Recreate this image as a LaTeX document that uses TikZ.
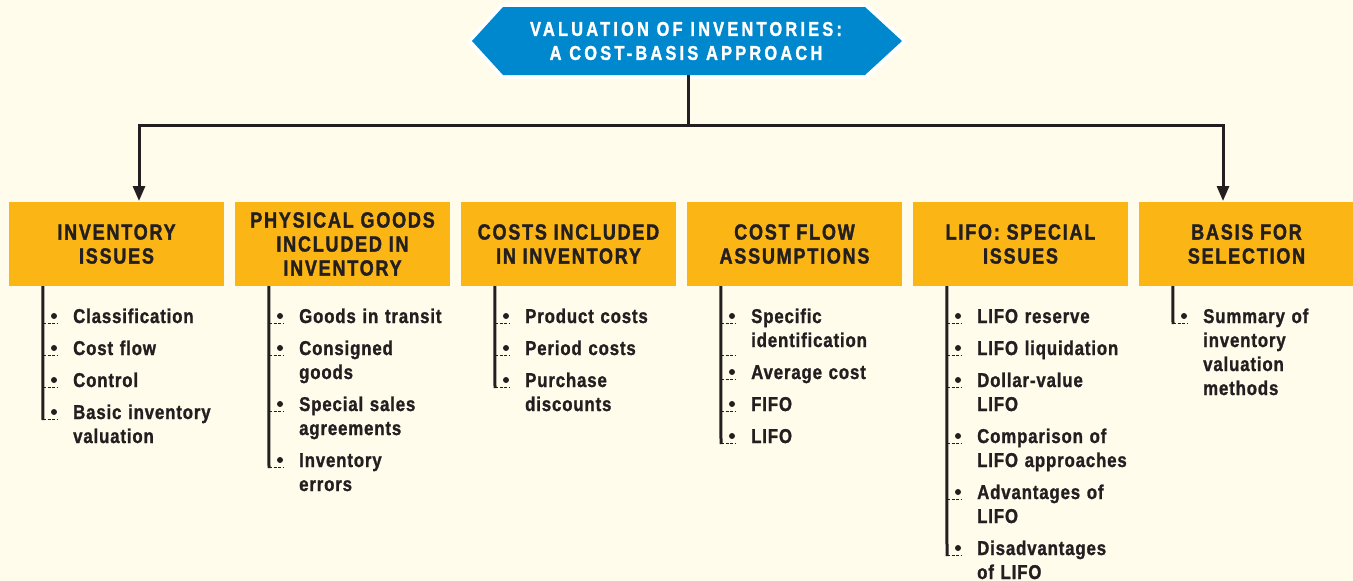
\documentclass[tikz,border=0pt]{standalone}
\usepackage{fontspec}
\setmainfont{Liberation Sans}
\newfontfamily\itemfont{Liberation Sans}[FakeStretch=0.84, LetterSpace=4.3, BoldFeatures={FakeBold=1.2}]
\newfontfamily\hdrfont{Liberation Sans}[FakeStretch=0.82, LetterSpace=8, BoldFeatures={FakeBold=1.6}]
\newfontfamily\titlefont{Liberation Sans}[FakeStretch=0.82, LetterSpace=16, BoldFeatures={FakeBold=1.4}]
\usetikzlibrary{arrows.meta}
\definecolor{bg}{RGB}{255,252,236}
\definecolor{hexblue}{RGB}{0,136,206}
\definecolor{boxorange}{RGB}{251,182,21}
\definecolor{ink}{RGB}{35,31,32}
\tikzset{
  hdr/.style={fill=boxorange, draw=none, minimum width=215pt, minimum height=84pt, inner sep=0pt,
    align=center, text=ink, font=\hdrfont\bfseries\fontsize{22}{24}\selectfont},
  item/.style={anchor=base west, inner sep=0pt, align=left, text width=170pt, text=ink,
    font=\itemfont\bfseries\fontsize{20}{24}\selectfont},
  bar/.style={draw=ink, line width=3pt},
  tickline/.style={draw=ink, line width=1pt, dash pattern=on 3pt off 1.5pt},
  conn/.style={draw=ink, line width=3pt},
  tip/.style={-{Triangle[length=15pt,width=12pt]}}
}
\newcommand\itm[4]{%
  \node[item] (#1) at (#2+64,#3) {#4};
  \fill[ink] (#2+45,#3-7) circle (3pt);
  \draw[tickline] (#2+34,#3) -- (#2+48,#3);
}
\begin{document}
\begin{tikzpicture}[x=1pt,y=-1pt]
\fill[bg] (0,0) rectangle (1353,581);
\useasboundingbox (0,0) rectangle (1353,581);
% title hexagon
\draw[white, line width=8pt, line join=round] (472,41) -- (503,7) -- (865,7) -- (902,41) -- (865,75) -- (503,75) -- cycle;
\fill[hexblue] (472,41) -- (503,7) -- (865,7) -- (902,41) -- (865,75) -- (503,75) -- cycle;
\node[align=center, text=white, inner sep=0pt, font=\titlefont\bfseries\fontsize{20}{24}\selectfont] (title) at (686,41) {VALUATION OF INVENTORIES:\\A COST-BASIS APPROACH};
% boxes
\node[hdr] (b1) at (116.5,244) {INVENTORY\\ISSUES};
\node[hdr] (b2) at (342.5,244) {PHYSICAL GOODS\\INCLUDED IN\\INVENTORY};
\node[hdr] (b3) at (568.5,244) {COSTS INCLUDED\\IN INVENTORY};
\node[hdr] (b4) at (794.5,244) {COST FLOW\\ASSUMPTIONS};
\node[hdr] (b5) at (1020.5,244) {LIFO: SPECIAL\\ISSUES};
\node[hdr] (b6) at (1246.5,244) {BASIS FOR\\SELECTION};
% connectors
\coordinate (hexb) at (688,75);
\coordinate (j) at (688,125);
\coordinate (a1) at (139,201);
\coordinate (a6) at (1223,201);
\draw[conn] (hexb) -- (j);
\draw[conn, tip] (j) -| (a1);
\draw[conn, tip] (j) -| (a6);
% bars
\draw[bar] ([xshift=34pt]b1.south west) -- (43,420);
\draw[bar] ([xshift=34pt]b2.south west) -- (269,468);
\draw[bar] ([xshift=34pt]b3.south west) -- (495,388);
\draw[bar] ([xshift=34pt]b4.south west) -- (721,444);
\draw[bar] ([xshift=34pt]b5.south west) -- (947,556);
\draw[bar] ([xshift=34pt]b6.south west) -- (1173,324);
% items box 1
\itm{i11}{9}{323}{Classification}
\itm{i12}{9}{355}{Cost flow}
\itm{i13}{9}{387}{Control}
\itm{i14}{9}{419}{Basic inventory\\valuation}
% box 2
\itm{i21}{235}{323}{Goods in transit}
\itm{i22}{235}{355}{Consigned\\goods}
\itm{i23}{235}{411}{Special sales\\agreements}
\itm{i24}{235}{467}{Inventory\\errors}
% box 3
\itm{i31}{461}{323}{Product costs}
\itm{i32}{461}{355}{Period costs}
\itm{i33}{461}{387}{Purchase\\discounts}
% box 4
\itm{i41}{687}{323}{Specific\\identification}
\draw[tickline] (721,355) -- (735,355);
\itm{i42}{687}{379}{Average cost}
\itm{i43}{687}{411}{FIFO}
\itm{i44}{687}{443}{LIFO}
% box 5
\itm{i51}{913}{323}{LIFO reserve}
\itm{i52}{913}{355}{LIFO liquidation}
\itm{i53}{913}{387}{Dollar-value\\LIFO}
\itm{i54}{913}{443}{Comparison of\\LIFO approaches}
\itm{i55}{913}{499}{Advantages of\\LIFO}
\itm{i56}{913}{555}{Disadvantages\\of LIFO}
% box 6
\itm{i61}{1139}{323}{Summary of\\inventory\\valuation\\methods}
\end{tikzpicture}
\end{document}
